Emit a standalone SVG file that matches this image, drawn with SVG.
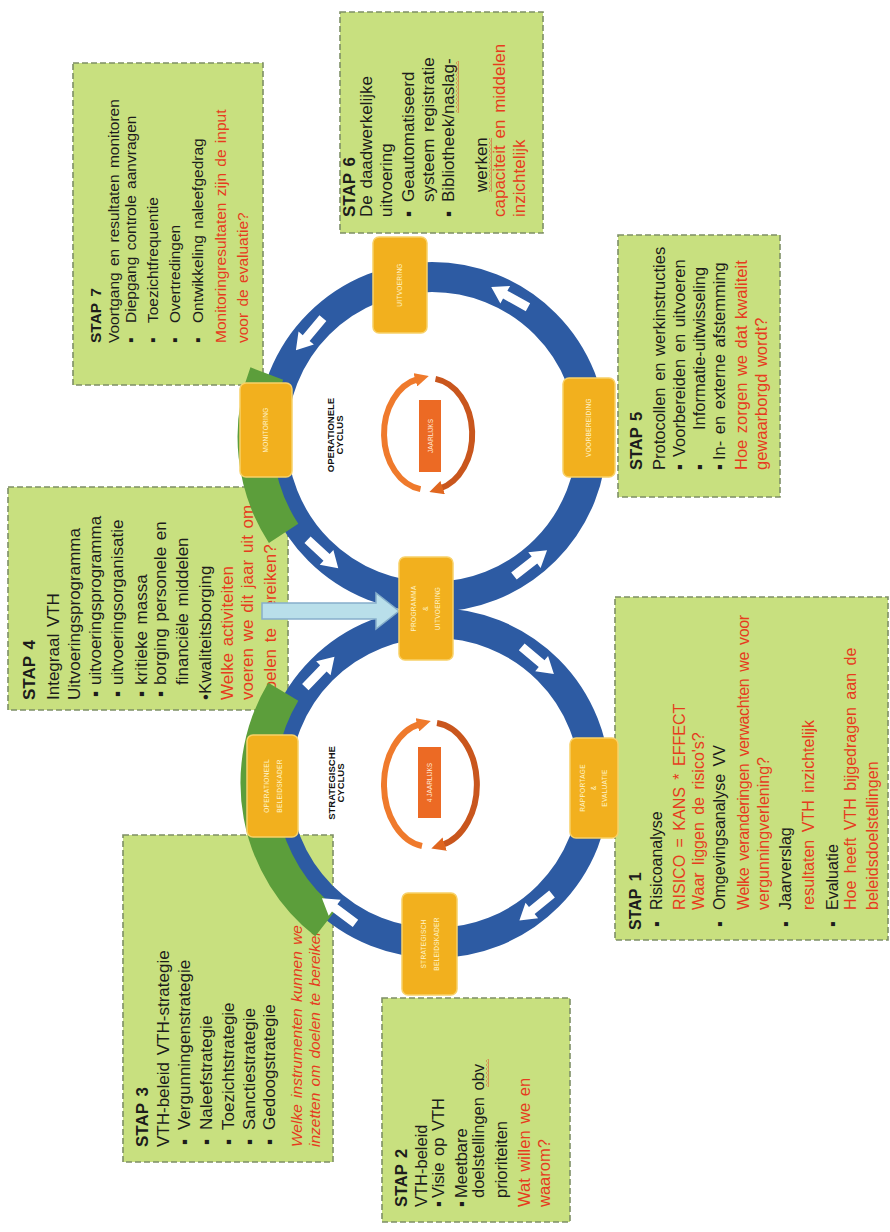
<svg xmlns="http://www.w3.org/2000/svg" width="890" height="1232" viewBox="0 0 890 1232">
  <style>
    .box{fill:#C8E07F;stroke:#7E8F66;stroke-width:1.6;stroke-dasharray:6 3}
    .t{font-family:"Liberation Sans",Arial,sans-serif;font-size:15.5px;fill:#1c1c1c;word-spacing:2px}
    #stap6 .t{font-size:17px}
    #stap5 .t{font-size:16.5px}
    #stap4 .t{font-size:17px}
    #stap1 .t{font-size:16px;word-spacing:3px}
    #stap3 .t{font-size:17px}
    #stap3 .t.i{font-size:15.5px}
    #stap2 .t{font-size:16.5px}
    .h{font-weight:bold}
    .r{fill:#E63C1E}
    .i{font-style:italic}
    .node{fill:#F2B01E;stroke:#F8D168;stroke-width:1.5}
    .nl{font-family:"Liberation Sans",Arial,sans-serif;font-size:6.5px;fill:#FFF4CC;text-anchor:middle;letter-spacing:0.3px}
    .ring{fill:none;stroke:#2D5BA3;stroke-width:30}
    .band{fill:none;stroke:#5C9E3B;stroke-width:35}
    .wa{fill:#FFFFFF}
    .cy{font-family:"Liberation Sans",Arial,sans-serif;font-size:9.5px;font-weight:bold;fill:#111;text-anchor:middle}
    .yr{fill:#EC6A24}
    .yt{font-family:"Liberation Sans",Arial,sans-serif;font-size:6.5px;fill:#FFE9D8;text-anchor:middle}
    .sq{fill:url(#squig)}
  </style>
  <defs>
    <!-- white block arrow pointing along +x, centred on the origin -->
    <polygon id="warrow" points="-21,-4.5 5,-4.5 5,-10 21,0 5,10 5,4.5 -21,4.5"/>
    <marker id="headA" viewBox="0 0 10 10" refX="2" refY="5" markerWidth="14" markerHeight="14" markerUnits="userSpaceOnUse" orient="auto">
      <path d="M0,0 L10,5 L0,10 z" fill="#EF7A2C"/>
    </marker>
    <marker id="headB" viewBox="0 0 10 10" refX="2" refY="5" markerWidth="14" markerHeight="14" markerUnits="userSpaceOnUse" orient="auto">
      <path d="M0,0 L10,5 L0,10 z" fill="#E0661F"/>
    </marker>
    <!-- spell-check style wavy underline -->
    <pattern id="squig" width="4" height="3" patternUnits="userSpaceOnUse">
      <path d="M0,0.5 L2,2.5 L4,0.5" fill="none" stroke="#E0301E" stroke-width="0.9"/>
    </pattern>
  </defs>

  <rect width="890" height="1232" fill="#FFFFFF"/>

  <!-- step boxes -->
  <g id="stap7">
    <rect class="box" x="73" y="63" width="190" height="322"/>
    <g transform="translate(73,343) rotate(-90)">
      <text class="t h" x="0" y="28">STAP 7</text>
      <text class="t" x="0" y="46">Voortgang en resultaten monitoren</text>
      <text class="t" x="0" y="63">▪</text><text class="t" x="20" y="63">Diepgang controle aanvragen</text>
      <text class="t" x="0" y="85">▪</text><text class="t" x="20" y="85">Toezichtfrequentie</text>
      <text class="t" x="0" y="107">▪</text><text class="t" x="20" y="107">Overtredingen</text>
      <text class="t" x="0" y="130">▪</text><text class="t" x="20" y="130">Ontwikkeling naleefgedrag</text>
      <text class="t r" x="0" y="153">Monitoringresultaten zijn de input</text>
      <text class="t r" x="0" y="175">voor de evaluatie?</text>
    </g>
  </g>

  <g id="stap6">
    <rect class="box" x="340" y="12" width="203" height="221"/>
    <g transform="translate(340,217) rotate(-90)">
      <text class="t h" x="0" y="15">STAP 6</text>
      <text class="t" x="0" y="32">De daadwerkelijke</text>
      <text class="t" x="0" y="52">uitvoering</text>
      <text class="t" x="0" y="74">▪</text><text class="t" x="15" y="74">Geautomatiseerd</text>
      <text class="t" x="15" y="94">systeem registratie</text>
      <text class="t" x="0" y="114">▪</text><text class="t" x="15" y="114">Bibliotheek/naslag-</text>
      <rect class="sq" x="104" y="116" width="52" height="3"/>
      <text class="t" x="25" y="147">werken</text>
      <rect class="sq" x="25" y="149" width="54" height="3"/>
      <text class="t r" x="0" y="165">capaciteit en middelen</text>
      <text class="t r" x="0" y="185">inzichtelijk</text>
    </g>
  </g>

  <g id="stap5">
    <rect class="box" x="618" y="235" width="162" height="262"/>
    <g transform="translate(618,470) rotate(-90)">
      <text class="t h" x="0" y="24">STAP 5</text>
      <text class="t" x="0" y="47">Protocollen en werkinstructies</text>
      <text class="t" x="0" y="67">▪</text><text class="t" x="13" y="67">Voorbereiden en uitvoeren</text>
      <text class="t" x="0" y="87">▪</text><text class="t" x="40" y="87">Informatie-uitwisseling</text>
      <text class="t" x="0" y="107">▪</text><text class="t" x="10" y="107">In- en externe afstemming</text>
      <text class="t r" x="0" y="129">Hoe zorgen we dat kwaliteit</text>
      <text class="t r" x="0" y="149">gewaarborgd wordt?</text>
    </g>
  </g>

  <g id="stap4">
    <rect class="box" x="8" y="487" width="280" height="223"/>
    <g transform="translate(8,700) rotate(-90)">
      <text class="t h" x="0" y="27">STAP 4</text>
      <text class="t" x="0" y="51">Integraal VTH</text>
      <text class="t" x="0" y="72">Uitvoeringsprogramma</text>
      <text class="t" x="3" y="93">▪</text><text class="t" x="15" y="93">uitvoeringsprogramma</text>
      <text class="t" x="3" y="115">▪</text><text class="t" x="15" y="115">uitvoeringsorganisatie</text>
      <text class="t" x="3" y="139">▪</text><text class="t" x="15" y="139">kritieke massa</text>
      <text class="t" x="3" y="158">▪</text><text class="t" x="15" y="158">borging personele en</text>
      <text class="t" x="15" y="180">financiële middelen</text>
      <text class="t" x="0" y="203">•Kwaliteitsborging</text>
      <text class="t r" x="0" y="225">Welke activiteiten</text>
      <text class="t r" x="0" y="245">voeren we dit jaar uit om</text>
      <text class="t r" x="0" y="268">doelen te</text>
      <text class="t r" x="81" y="268">bereiken?</text>
    </g>
  </g>

  <g id="stap1">
    <rect class="box" x="615" y="597" width="273" height="343"/>
    <g transform="translate(615,930) rotate(-90)">
      <text class="t h" x="0" y="26">STAP 1</text>
      <text class="t" x="3" y="47">▪</text><text class="t" x="20" y="47">Risicoanalyse</text>
      <text class="t r" x="20" y="70">RISICO = KANS * EFFECT</text>
      <text class="t r" x="20" y="89">Waar liggen de risico's?</text>
      <text class="t" x="3" y="110">▪</text><text class="t" x="20" y="110">Omgevingsanalyse VV</text>
      <text class="t r" x="20" y="134" textLength="295">Welke veranderingen verwachten we voor</text>
      <text class="t r" x="20" y="154">vergunningverlening?</text>
      <text class="t" x="3" y="176">▪</text><text class="t" x="20" y="176">Jaarverslag</text>
      <text class="t r" x="20" y="199">resultaten VTH inzichtelijk</text>
      <text class="t" x="3" y="223">▪</text><text class="t" x="20" y="223">Evaluatie</text>
      <text class="t r" x="20" y="241">Hoe heeft VTH bijgedragen aan de</text>
      <text class="t r" x="20" y="263">beleidsdoelstellingen</text>
    </g>
  </g>

  <g id="stap2">
    <rect class="box" x="382" y="998" width="188" height="224"/>
    <g transform="translate(382,1207) rotate(-90)">
      <text class="t h" x="0" y="25">STAP 2</text>
      <text class="t" x="0" y="45">VTH-beleid</text>
      <text class="t" x="0" y="62">▪</text><text class="t" x="9" y="62">Visie op VTH</text>
      <text class="t" x="0" y="85">▪</text><text class="t" x="9" y="85">Meetbare</text>
      <text class="t" x="9" y="102">doelstellingen obv</text>
      <rect class="sq" x="120" y="104" width="28" height="3"/>
      <text class="t" x="9" y="125">prioriteiten</text>
      <text class="t r" x="0" y="148">Wat willen we en</text>
      <text class="t r" x="0" y="168">waarom?</text>
    </g>
  </g>

  <g id="stap3">
    <rect class="box" x="123" y="835" width="210" height="327"/>
    <g transform="translate(123,1147) rotate(-90)">
      <text class="t h" x="0" y="25">STAP 3</text>
      <text class="t" x="0" y="46">VTH-beleid VTH-strategie</text>
      <text class="t" x="2" y="67">▪</text><text class="t" x="17" y="67">Vergunningenstrategie</text>
      <text class="t" x="2" y="89">▪</text><text class="t" x="17" y="89">Naleefstrategie</text>
      <text class="t" x="2" y="111">▪</text><text class="t" x="17" y="111">Toezichtstrategie</text>
      <text class="t" x="2" y="132">▪</text><text class="t" x="17" y="132">Sanctiestrategie</text>
      <text class="t" x="2" y="152">▪</text><text class="t" x="17" y="152">Gedoogstrategie</text>
      <text class="t r i" x="0" y="179">Welke instrumenten kunnen we</text>
      <text class="t r i" x="0" y="197">inzetten om doelen te bereiken?</text>
    </g>
  </g>

  <!-- the two cycles -->
  <g id="rings">
    <circle class="ring" cx="432" cy="437" r="160"/>
    <circle class="ring" cx="435" cy="783" r="160"/>
    <!-- green highlight bands on the left side of each cycle -->
    <path class="band" d="M283.6,533.4 A177,177 0 0 1 266.8,373.6"/>
    <path class="band" d="M326,922.5 A177,177 0 0 1 283.3,691.8"/>
  </g>

  <g id="connectors">
    <!-- operational cycle -->
    <use href="#warrow" class="wa" transform="translate(309.4,334.2) rotate(130)"/>
    <use href="#warrow" class="wa" transform="translate(509.6,297.1) rotate(209)"/>
    <use href="#warrow" class="wa" transform="translate(530.5,563.1) rotate(-38)"/>
    <use href="#warrow" class="wa" transform="translate(322.9,554) rotate(43)"/>
    <!-- strategic cycle -->
    <use href="#warrow" class="wa" transform="translate(319.9,671.9) rotate(314)"/>
    <use href="#warrow" class="wa" transform="translate(537.8,660.4) rotate(40)"/>
    <use href="#warrow" class="wa" transform="translate(535.7,907.3) rotate(141)"/>
    <use href="#warrow" class="wa" transform="translate(338.7,910.8) rotate(217)"/>
    <!-- input arrow from step 4 into the programme -->
    <polygon points="262,603 376,603 376,593 399,611 376,629 376,619 262,619" fill="#B9DFEA" stroke="#86AFCB" stroke-width="1.5"/>
  </g>

  <!-- cycle nodes -->
  <g id="n-uitvoering">
    <rect class="node" x="373" y="237" width="54" height="96" rx="6"/>
    <text class="nl" transform="translate(402,285) rotate(-90)">UITVOERING</text>
  </g>
  <g id="n-monitoring">
    <rect class="node" x="240" y="383" width="52" height="94" rx="6"/>
    <text class="nl" transform="translate(268,430) rotate(-90)">MONITORING</text>
  </g>
  <g id="n-voorbereiding">
    <rect class="node" x="563" y="378" width="52" height="99" rx="6"/>
    <text class="nl" transform="translate(591,427.5) rotate(-90)">VOORBEREIDING</text>
  </g>
  <g id="n-programma">
    <rect class="node" x="399" y="557" width="54" height="103" rx="6"/>
    <g transform="translate(426,608.5) rotate(-90)">
      <text class="nl" y="-10">PROGRAMMA</text>
      <text class="nl" y="2">&amp;</text>
      <text class="nl" y="14">UITVOERING</text>
    </g>
  </g>
  <g id="n-operationeel">
    <rect class="node" x="247" y="735" width="51" height="102" rx="6"/>
    <g transform="translate(272.5,786) rotate(-90)">
      <text class="nl" y="-4">OPERATIONEEL</text>
      <text class="nl" y="9">BELEIDSKADER</text>
    </g>
  </g>
  <g id="n-rapportage">
    <rect class="node" x="570" y="738" width="48" height="100" rx="6"/>
    <g transform="translate(594,788) rotate(-90)">
      <text class="nl" y="-9">RAPPORTAGE</text>
      <text class="nl" y="2">&amp;</text>
      <text class="nl" y="13">EVALUATIE</text>
    </g>
  </g>
  <g id="n-strategisch">
    <rect class="node" x="402" y="893" width="55" height="102" rx="6"/>
    <g transform="translate(429.5,944) rotate(-90)">
      <text class="nl" y="-4">STRATEGISCH</text>
      <text class="nl" y="9">BELEIDSKADER</text>
    </g>
  </g>

  <!-- cycle centres -->
  <g id="c-operationeel">
    <g transform="translate(334,435) rotate(-90)">
      <text class="cy" y="0">OPERATIONELE</text>
      <text class="cy" y="9">CYCLUS</text>
    </g>
    <path d="M420.5,489.1 A43,56 0 0 1 418,379" fill="none" stroke="#EF7A2C" stroke-width="6" marker-end="url(#headA)"/>
    <path d="M435.5,378.9 A43,56 0 0 1 440,488.5" fill="none" stroke="#C9561D" stroke-width="6" marker-end="url(#headB)"/>
    <rect class="yr" x="419" y="400" width="22" height="72"/>
    <text class="yt" transform="translate(432.5,436) rotate(-90)">JAARLIJKS</text>
  </g>
  <g id="c-strategisch">
    <g transform="translate(335,783) rotate(-90)">
      <text class="cy" y="0">STRATEGISCHE</text>
      <text class="cy" y="9">CYCLUS</text>
    </g>
    <path d="M422,846 A45,62 0 0 1 420,724" fill="none" stroke="#EF7A2C" stroke-width="6" marker-end="url(#headA)"/>
    <path d="M437,723 A45,62 0 0 1 442,845" fill="none" stroke="#C9561D" stroke-width="6" marker-end="url(#headB)"/>
    <rect class="yr" x="418" y="747" width="23" height="71"/>
    <text class="yt" transform="translate(432,782.5) rotate(-90)">4 JAARLIJKS</text>
  </g>
</svg>
